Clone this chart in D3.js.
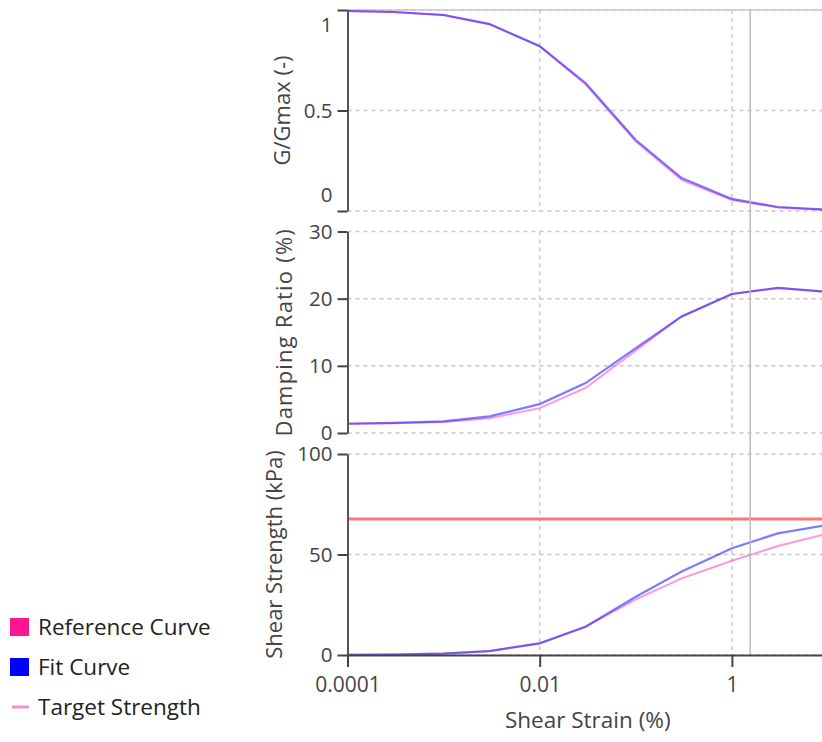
<!DOCTYPE html>
<html>
<head>
<meta charset="utf-8">
<script src="https://cdn.jsdelivr.net/npm/d3@7"></script>
<style>
  body { margin: 0; background: #fff; }
  svg { display: block; font-family: "Open Sans", sans-serif; }
</style>
</head>
<body>
<svg id="chart" width="822" height="742"></svg>
<script>
// strain points (%) shared by all three curves
const strain = [0.0001, 0.0003, 0.001, 0.003, 0.01, 0.03, 0.1, 0.3, 1, 3, 10];

const gRef = [0.995, 0.99, 0.975, 0.93, 0.82, 0.63, 0.345, 0.155, 0.055, 0.018, 0.005];
const gFit = [0.995, 0.99, 0.975, 0.93, 0.82, 0.637, 0.353, 0.164, 0.06, 0.02, 0.006];

const dampRef = [1.38, 1.45, 1.65, 2.2, 3.7, 6.7, 12.3, 17.35, 20.7, 21.6, 21.0];
const dampFit = [1.38, 1.5, 1.73, 2.47, 4.3, 7.44, 12.65, 17.35, 20.7, 21.6, 21.0];

const shearRef = [0.07, 0.21, 0.69, 1.97, 5.8, 14.1, 27.7, 38.1, 46.9, 54.2, 60.5];
const shearFit = [0.07, 0.21, 0.69, 1.97, 5.8, 14.1, 29, 41.5, 53.1, 60.5, 64.7];

const targetStrength = 67.7;
const markerStrain = 1.55;

const xTicks = [0.0001, 0.01, 1];
const xTickLabels = ["0.0001", "0.01", "1"];
const gTicks = [0, 0.5, 1];
const dampTicks = [0, 10, 20, 30];
const shearTicks = [0, 50, 100];

const legendItems = ["Reference Curve", "Fit Curve", "Target Strength"];

const refColor = "#ff50cc", fitColor = "#2424ff";

const svg = d3.select("#chart");
const x = d3.scaleLog().domain([0.0001, 10]).range([347.5, 828]);

const panels = [
  {title: "G/Gmax (-)", top: 10, bottom: 211, max: 1, ticks: gTicks, ref: gRef, fit: gFit, titleX: 290, shiftEnds: true},
  {title: "Damping Ratio (%)", top: 231.5, bottom: 433, max: 30, ticks: dampTicks, ref: dampRef, fit: dampFit, titleX: 292, spacing: 1.2},
  {title: "Shear Strength (kPa)", top: 454, bottom: 655, max: 100, ticks: shearTicks, ref: shearRef, fit: shearFit, titleX: 282}
];

const grid = svg.append("g");
const marks = svg.append("g");
const axes = svg.append("g");

panels.forEach(function(p){
  const y = d3.scaleLinear().domain([0, p.max]).range([p.bottom, p.top]);
  p.y = y;

  // dashed grid
  grid.selectAll(null).data(p.ticks).enter().append("line")
    .attr("x1", x(0.0001)).attr("x2", 822)
    .attr("y1", d => y(d)).attr("y2", d => y(d))
    .attr("stroke", "#c8c8c8").attr("stroke-width", 1.5)
    .attr("stroke-dasharray", "4,4");
  grid.selectAll(null).data([0.01, 1]).enter().append("line")
    .attr("x1", d => x(d)).attr("x2", d => x(d))
    .attr("y1", p.top).attr("y2", p.bottom)
    .attr("stroke", "#c8c8c8").attr("stroke-width", 1.5)
    .attr("stroke-dasharray", "4,4");

  const line = d3.line().x((d, i) => x(strain[i])).y(d => y(d));
  marks.append("path").datum(p.ref).attr("d", line)
    .attr("fill", "none").attr("stroke", refColor).attr("stroke-width", 2)
    .attr("stroke-opacity", 0.6);
  marks.append("path").datum(p.fit).attr("d", line)
    .attr("fill", "none").attr("stroke", fitColor).attr("stroke-width", 2.2)
    .attr("stroke-opacity", 0.6);

  // y axis
  const ax = axes.append("g").attr("transform", "translate(" + x(0.0001) + ",0)")
    .call(d3.axisLeft(y).tickValues(p.ticks).tickSize(10).tickSizeOuter(0).tickPadding(5)
      .tickFormat(d3.format("")));
  ax.select(".domain").attr("stroke", "#555").attr("stroke-width", 2);
  ax.selectAll(".tick line").attr("stroke", "#444").attr("stroke-width", 2);
  ax.selectAll(".tick text").attr("fill", "#444").style("font-size", "20.5px")
    .style("font-family", "Open Sans");
  if (p.shiftEnds) {
    ax.selectAll(".tick text").attr("dy", d => d == p.max ? "1.05em" : (d == 0 ? "-0.45em" : "0.32em"));
  }

  axes.append("text")
    .attr("transform", "translate(" + p.titleX + "," + (p.top + p.bottom) / 2 + ") rotate(-90)")
    .attr("text-anchor", "middle").attr("fill", "#444").style("font-size", "22px")
    .style("letter-spacing", (p.spacing || 0) + "px")
    .text(p.title);
});

// top border of first panel
grid.append("line").attr("x1", x(0.0001)).attr("x2", 822)
  .attr("y1", panels[0].top).attr("y2", panels[0].top)
  .attr("stroke", "#c8c8c8").attr("stroke-width", 1.5);

// target strength
const ys = panels[2].y;
marks.append("line").attr("x1", x(0.0001)).attr("x2", 822)
  .attr("y1", ys(targetStrength)).attr("y2", ys(targetStrength))
  .attr("stroke", "#ff7878").attr("stroke-width", 3);

// vertical marker
marks.append("line").attr("x1", x(markerStrain)).attr("x2", x(markerStrain))
  .attr("y1", panels[0].top).attr("y2", panels[2].bottom)
  .attr("stroke", "#bbb").attr("stroke-width", 1.5);

// x axis
const xa = axes.append("g").attr("transform", "translate(0," + panels[2].bottom + ")")
  .call(d3.axisBottom(x).tickValues(xTicks).tickSize(12).tickSizeOuter(0).tickPadding(10)
    .tickFormat((d, i) => xTickLabels[i]));
xa.select(".domain").attr("stroke", "#444").attr("stroke-width", 2);
xa.selectAll(".tick line").attr("stroke", "#444").attr("stroke-width", 2);
xa.selectAll(".tick text").attr("fill", "#444").style("font-size", "21px")
  .style("font-family", "Open Sans");

axes.append("text").attr("x", (x(0.0001) + x(10)) / 2).attr("y", 728)
  .attr("text-anchor", "middle").attr("fill", "#444").style("font-size", "22.5px")
  .text("Shear Strain (%)");

// legend
const lg = svg.append("g");
const lgColors = ["#ff1493", "#0000ff", "#f490c8"];
legendItems.forEach(function(name, i){
  const cy = 627 + i * 40;
  if (i < 2) {
    lg.append("rect").attr("x", 10).attr("y", cy - 9).attr("width", 19).attr("height", 18)
      .attr("fill", lgColors[i]);
  } else {
    lg.append("line").attr("x1", 12).attr("x2", 29).attr("y1", cy).attr("y2", cy)
      .attr("stroke", lgColors[i]).attr("stroke-width", 3);
  }
  lg.append("text").attr("x", 38).attr("y", cy).attr("dy", "0.35em")
    .attr("fill", "#222").style("font-size", "22.5px").text(name);
});
</script>
</body>
</html>
